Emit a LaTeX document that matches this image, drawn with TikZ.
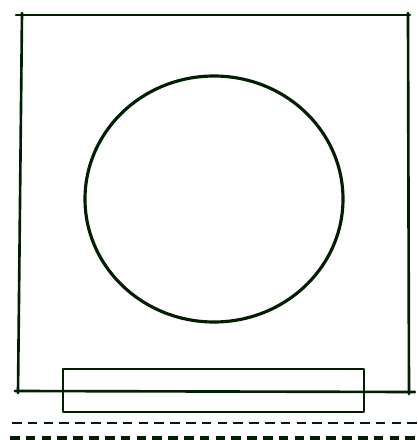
\documentclass[tikz,border=0pt]{standalone}
\begin{document}
\begin{tikzpicture}[x=0.02cm,y=-0.02cm]
  \tikzset{
    ink/.style={draw=black!88!green,line width=1.5pt,line cap=round,line join=round},
    dashline/.style={ink,line cap=butt,dash pattern=on 5.5pt off 3.5pt},
  }
  \useasboundingbox (0,0) rectangle (417,440);
  % outer frame
  \draw[ink] (16,15) -- (410,15);
  \draw[ink] (22,13) -- (18,393);
  \draw[ink] (408,13) -- (409,394);
  \draw[ink] (15,391) -- (415,392);
  % round opening
  \draw[ink,line width=1.8pt] (214,199) ellipse (129 and 123);
  % sill board
  \draw[ink] (63,369) rectangle (364,412);
  % ground lines
  \draw[dashline] (12,423) -- (417,423);
  \draw[dashline,line width=2.4pt] (10,438) -- (417,438);
\end{tikzpicture}
\end{document}
